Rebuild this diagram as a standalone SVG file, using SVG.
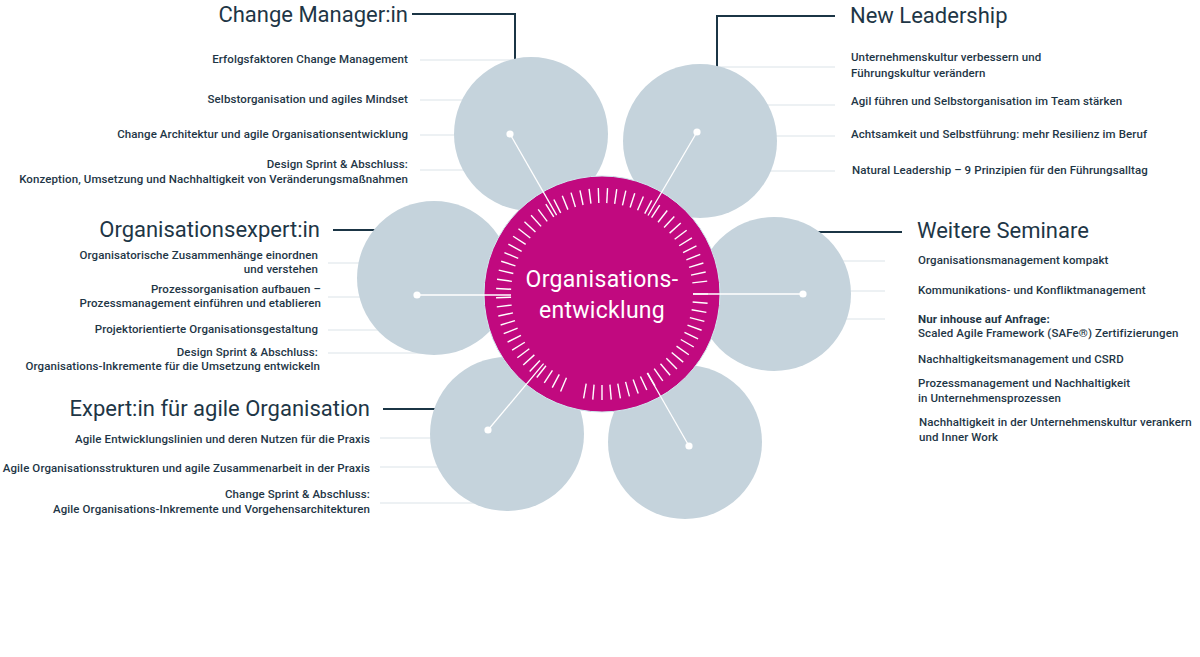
<svg xmlns="http://www.w3.org/2000/svg" xmlns:xlink="http://www.w3.org/1999/xlink" width="1200" height="657" viewBox="0 0 1200 657">
<style>
.bg{fill:#ffffff}
.petal{fill:#c5d3dc}
.hub{fill:#c1097f;stroke:#cfe9ee;stroke-width:1}
.thin{stroke:#dbe3e8;stroke-width:1;fill:none}
.lead{stroke:#1b3545;stroke-width:2;fill:none}
.spoke{stroke:#ffffff;stroke-width:1.3;fill:none}
.dot{fill:#ffffff}
.h{font-family:Roboto,"Liberation Sans",sans-serif;font-size:22px;fill:#1e3646;letter-spacing:0px}
.t{font-family:Roboto,"Liberation Sans",sans-serif;font-size:11.5px;font-weight:500;fill:#1e3646;letter-spacing:0.1px}
.b{font-weight:700}
.r{text-anchor:end}
.c{font-family:Roboto,"Liberation Sans",sans-serif;font-size:23px;fill:#ffffff;text-anchor:middle;letter-spacing:0.3px}
</style>
<defs>
<line id="tick" x1="693" y1="294" x2="708" y2="294" stroke="#ffffff" stroke-width="1.4"/>
</defs>
<rect class="bg" x="0" y="0" width="1200" height="657"/>

<g id="connectors">
<path class="thin" d="M420,60H531M420,100H531M420,135H531M420,170H531"/>
<path class="thin" d="M700,67H835M700,105H835M700,136H835M700,171H835"/>
<path class="thin" d="M328,263H434M328,297H434M328,330H434M328,353H434"/>
<path class="thin" d="M380,438H507M380,467H507M380,503H507"/>
<path class="thin" d="M774,261H885M774,291H885M774,319H885"/>
<path class="lead" d="M412,14H515V62"/>
<path class="lead" d="M835,16H717V70"/>
<path class="lead" d="M333,230H385"/>
<path class="lead" d="M383,409H445"/>
<path class="lead" d="M902,232H800"/>
</g>

<g id="node-change-manager">
<circle class="petal" cx="531" cy="134" r="77"/>
<text class="h r" x="408" y="22">Change Manager:in</text>
<text class="t r" x="408" y="63">Erfolgsfaktoren Change Management</text>
<text class="t r" x="408" y="103">Selbstorganisation und agiles Mindset</text>
<text class="t r" x="408" y="138">Change Architektur und agile Organisationsentwicklung</text>
<text class="t r" x="408" y="168">Design Sprint &amp; Abschluss:</text>
<text class="t r" x="408" y="183">Konzeption, Umsetzung und Nachhaltigkeit von Veränderungsmaßnahmen</text>
</g>

<g id="node-new-leadership">
<circle class="petal" cx="700" cy="141" r="77"/>
<text class="h" x="850" y="23">New Leadership</text>
<text class="t" x="851" y="61">Unternehmenskultur verbessern und</text>
<text class="t" x="851" y="77">Führungskultur verändern</text>
<text class="t" x="851" y="105">Agil führen und Selbstorganisation im Team stärken</text>
<text class="t" x="851" y="138">Achtsamkeit und Selbstführung: mehr Resilienz im Beruf</text>
<text class="t" x="852" y="174">Natural Leadership – 9 Prinzipien für den Führungsalltag</text>
</g>

<g id="node-organisationsexpertin">
<circle class="petal" cx="434" cy="278" r="77"/>
<text class="h r" x="320" y="237">Organisationsexpert:in</text>
<text class="t r" x="318" y="259">Organisatorische Zusammenhänge einordnen</text>
<text class="t r" x="318" y="273">und verstehen</text>
<text class="t r" x="321" y="293">Prozessorganisation aufbauen –</text>
<text class="t r" x="321" y="307">Prozessmanagement einführen und etablieren</text>
<text class="t r" x="318" y="333">Projektorientierte Organisationsgestaltung</text>
<text class="t r" x="318" y="356">Design Sprint &amp; Abschluss:</text>
<text class="t r" x="320" y="370">Organisations-Inkremente für die Umsetzung entwickeln</text>
</g>

<g id="node-agile-organisation">
<circle class="petal" cx="507" cy="434" r="77"/>
<text class="h r" x="370" y="416">Expert:in für agile Organisation</text>
<text class="t r" x="370" y="443">Agile Entwicklungslinien und deren Nutzen für die Praxis</text>
<text class="t r" x="370" y="472">Agile Organisationsstrukturen und agile Zusammenarbeit in der Praxis</text>
<text class="t r" x="370" y="498">Change Sprint &amp; Abschluss:</text>
<text class="t r" x="370" y="513">Agile Organisations-Inkremente und Vorgehensarchitekturen</text>
</g>

<g id="node-bottom-right">
<circle class="petal" cx="685" cy="442" r="77"/>
</g>

<g id="node-weitere-seminare">
<circle class="petal" cx="774" cy="294" r="77"/>
<text class="h" x="917" y="238">Weitere Seminare</text>
<text class="t" x="918" y="264">Organisationsmanagement kompakt</text>
<text class="t" x="918" y="294">Kommunikations- und Konfliktmanagement</text>
<text class="t b" x="918" y="323">Nur inhouse auf Anfrage:</text>
<text class="t" x="918" y="337">Scaled Agile Framework (SAFe®) Zertifizierungen</text>
<text class="t" x="918" y="363">Nachhaltigkeitsmanagement und CSRD</text>
<text class="t" x="918" y="387">Prozessmanagement und Nachhaltigkeit</text>
<text class="t" x="918" y="402">in Unternehmensprozessen</text>
<text class="t" x="919" y="426">Nachhaltigkeit in der Unternehmenskultur verankern</text>
<text class="t" x="919" y="441">und Inner Work</text>
</g>

<g id="node-center">
<circle class="hub" cx="602" cy="294" r="118"/>
<g id="ticks">
<use xlink:href="#tick" transform="rotate(0 602 294)"/>
<use xlink:href="#tick" transform="rotate(5 602 294)"/>
<use xlink:href="#tick" transform="rotate(10 602 294)"/>
<use xlink:href="#tick" transform="rotate(15 602 294)"/>
<use xlink:href="#tick" transform="rotate(20 602 294)"/>
<use xlink:href="#tick" transform="rotate(25 602 294)"/>
<use xlink:href="#tick" transform="rotate(30 602 294)"/>
<use xlink:href="#tick" transform="rotate(35 602 294)"/>
<use xlink:href="#tick" transform="rotate(40 602 294)"/>
<use xlink:href="#tick" transform="rotate(45 602 294)"/>
<use xlink:href="#tick" transform="rotate(50 602 294)"/>
<use xlink:href="#tick" transform="rotate(55 602 294)"/>
<use xlink:href="#tick" transform="rotate(60 602 294)"/>
<use xlink:href="#tick" transform="rotate(65 602 294)"/>
<use xlink:href="#tick" transform="rotate(70 602 294)"/>
<use xlink:href="#tick" transform="rotate(75 602 294)"/>
<use xlink:href="#tick" transform="rotate(80 602 294)"/>
<use xlink:href="#tick" transform="rotate(85 602 294)"/>
<use xlink:href="#tick" transform="rotate(90 602 294)"/>
<use xlink:href="#tick" transform="rotate(95 602 294)"/>
<use xlink:href="#tick" transform="rotate(100 602 294)"/>
<use xlink:href="#tick" transform="rotate(113 602 294)"/>
<use xlink:href="#tick" transform="rotate(118 602 294)"/>
<use xlink:href="#tick" transform="rotate(123 602 294)"/>
<use xlink:href="#tick" transform="rotate(128 602 294)"/>
<use xlink:href="#tick" transform="rotate(133 602 294)"/>
<use xlink:href="#tick" transform="rotate(138 602 294)"/>
<use xlink:href="#tick" transform="rotate(143 602 294)"/>
<use xlink:href="#tick" transform="rotate(148 602 294)"/>
<use xlink:href="#tick" transform="rotate(153 602 294)"/>
<use xlink:href="#tick" transform="rotate(158 602 294)"/>
<use xlink:href="#tick" transform="rotate(163 602 294)"/>
<use xlink:href="#tick" transform="rotate(168 602 294)"/>
<use xlink:href="#tick" transform="rotate(173 602 294)"/>
<use xlink:href="#tick" transform="rotate(178 602 294)"/>
<use xlink:href="#tick" transform="rotate(183 602 294)"/>
<use xlink:href="#tick" transform="rotate(188 602 294)"/>
<use xlink:href="#tick" transform="rotate(193 602 294)"/>
<use xlink:href="#tick" transform="rotate(198 602 294)"/>
<use xlink:href="#tick" transform="rotate(203 602 294)"/>
<use xlink:href="#tick" transform="rotate(208 602 294)"/>
<use xlink:href="#tick" transform="rotate(213 602 294)"/>
<use xlink:href="#tick" transform="rotate(218 602 294)"/>
<use xlink:href="#tick" transform="rotate(223 602 294)"/>
<use xlink:href="#tick" transform="rotate(228 602 294)"/>
<use xlink:href="#tick" transform="rotate(233 602 294)"/>
<use xlink:href="#tick" transform="rotate(238 602 294)"/>
<use xlink:href="#tick" transform="rotate(243 602 294)"/>
<use xlink:href="#tick" transform="rotate(248 602 294)"/>
<use xlink:href="#tick" transform="rotate(253 602 294)"/>
<use xlink:href="#tick" transform="rotate(258 602 294)"/>
<use xlink:href="#tick" transform="rotate(263 602 294)"/>
<use xlink:href="#tick" transform="rotate(268 602 294)"/>
<use xlink:href="#tick" transform="rotate(273 602 294)"/>
<use xlink:href="#tick" transform="rotate(278 602 294)"/>
<use xlink:href="#tick" transform="rotate(283 602 294)"/>
<use xlink:href="#tick" transform="rotate(288 602 294)"/>
<use xlink:href="#tick" transform="rotate(293 602 294)"/>
<use xlink:href="#tick" transform="rotate(298 602 294)"/>
<use xlink:href="#tick" transform="rotate(303 602 294)"/>
<use xlink:href="#tick" transform="rotate(308 602 294)"/>
<use xlink:href="#tick" transform="rotate(313 602 294)"/>
<use xlink:href="#tick" transform="rotate(318 602 294)"/>
<use xlink:href="#tick" transform="rotate(323 602 294)"/>
<use xlink:href="#tick" transform="rotate(328 602 294)"/>
<use xlink:href="#tick" transform="rotate(333 602 294)"/>
<use xlink:href="#tick" transform="rotate(338 602 294)"/>
<use xlink:href="#tick" transform="rotate(343 602 294)"/>
<use xlink:href="#tick" transform="rotate(348 602 294)"/>
<use xlink:href="#tick" transform="rotate(353 602 294)"/>
</g>
<text class="c" x="602" y="287">Organisations-</text>
<text class="c" x="602" y="318">entwicklung</text>
</g>

<g id="spokes">
<path class="spoke" d="M510,134L556.6,215.1"/>
<path class="spoke" d="M697,132L648,215.5"/>
<path class="spoke" d="M417,295H511"/>
<path class="spoke" d="M803,294H693"/>
<path class="spoke" d="M488,430L543.6,363.7"/>
<path class="spoke" d="M689,446L647.2,373"/>
<circle class="dot" cx="510" cy="134" r="3.6"/>
<circle class="dot" cx="697" cy="132" r="3.6"/>
<circle class="dot" cx="417" cy="295" r="3.6"/>
<circle class="dot" cx="803" cy="294" r="3.6"/>
<circle class="dot" cx="488" cy="430" r="3.6"/>
<circle class="dot" cx="689" cy="446" r="3.6"/>
</g>
</svg>
